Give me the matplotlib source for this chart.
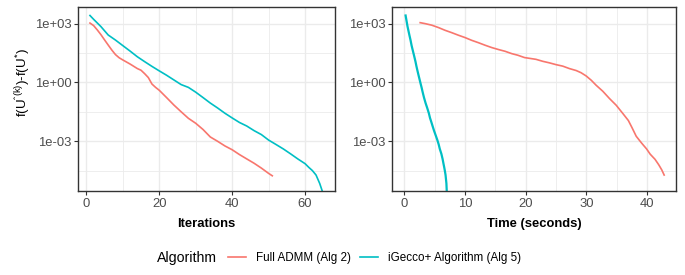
import matplotlib
matplotlib.use("Agg")
import matplotlib.pyplot as plt
from matplotlib.lines import Line2D

plt.rcParams['font.family'] = ['Liberation Sans', 'DejaVu Sans']
plt.rcParams['mathtext.fontset'] = 'custom'
plt.rcParams['mathtext.rm'] = 'Liberation Sans'
plt.rcParams['mathtext.it'] = 'Liberation Sans'
plt.rcParams['mathtext.bf'] = 'Liberation Sans:bold'

# ---------------- data ----------------
series_names = ["Full ADMM (Alg 2)", "iGecco+ Algorithm (Alg 5)"]
series_colors = ["#F8766D", "#00BFC4"]

# Left panel: objective gap vs iterations (Full ADMM)
admm_iter = [1, 2, 3, 4, 5, 6, 7, 8, 9, 10, 12, 14, 15, 16, 17, 18, 19, 20, 22,
             24, 26, 28, 30, 32, 34, 36, 38, 40, 42, 44, 46, 48, 50, 51]
admm_gap_iter = [1070, 794, 479, 275, 148, 81, 44.7, 26.3, 18.2, 14.1, 8.7, 5.1,
                 4.2, 2.8, 1.78, 0.83, 0.56, 0.40, 0.17, 0.071, 0.032, 0.0148,
                 0.0083, 0.0040, 0.00166, 1.0e-3, 5.8e-4, 3.7e-4, 2.1e-4,
                 1.26e-4, 7.6e-5, 4.3e-5, 2.3e-5, 1.74e-5]

# iGecco+: objective gap per iteration, with elapsed time (seconds)
igecco_iter = [1, 2, 4, 6, 8, 10, 12, 14, 16, 18, 20, 22, 24, 26, 28, 30, 32, 34,
               36, 38, 40, 42, 44, 46, 48, 50, 52, 54, 56, 58, 60, 61, 62, 63,
               64, 65]
igecco_gap = [2.6e3, 1.66e3, 708, 263, 145, 75.9, 39.8, 20.4, 11.5, 6.6, 3.9,
              2.34, 1.35, 0.78, 0.56, 0.32, 0.17, 0.089, 0.050, 0.027, 0.0155,
              0.0091, 0.0060, 0.0035, 0.0022, 1.15e-3, 6.9e-4, 4.1e-4, 2.3e-4,
              1.26e-4, 7.2e-5, 4.7e-5, 3.2e-5, 1.9e-5, 7.1e-6, 2.0e-6]
igecco_time = [0.22, 0.33, 0.54, 0.84, 1.03, 1.21, 1.43, 1.66, 1.85, 2.01, 2.18,
               2.35, 2.54, 2.73, 2.85, 3.03, 3.25, 3.51, 3.78, 4.05, 4.24, 4.48,
               4.66, 4.90, 5.13, 5.45, 5.67, 5.85, 6.11, 6.31, 6.46, 6.58, 6.68,
               6.80, 6.94, 7.02]

# Right panel: Full ADMM objective gap vs time (seconds)
admm_time = [2.62, 3.44, 4.54, 5.63, 6.72, 7.81, 8.91, 10.0, 11.1, 12.2, 13.3,
             14.4, 15.5, 16.6, 17.7, 18.7, 19.8, 21.7, 22.8, 23.9, 25.0, 26.1,
             27.2, 28.3, 29.1, 29.96, 30.8, 31.6, 32.7, 33.8, 34.9, 36.0, 36.9,
             37.5, 38.2, 39.1, 39.9, 40.5, 41.3, 41.9, 42.4, 42.8]
admm_gap_time = [1.12e3, 1.0e3, 832, 631, 457, 347, 257, 195, 141, 107, 79.4,
                 60.3, 47.9, 38.9, 29.5, 24.5, 18.6, 15.1, 12.0, 10.0, 8.1, 6.8,
                 5.1, 4.07, 3.16, 2.14, 1.29, 0.72, 0.355, 0.151, 0.069, 0.026,
                 0.0115, 5.0e-3, 1.8e-3, 8.0e-4, 4.1e-4, 2.2e-4, 1.2e-4, 6.4e-5,
                 3.5e-5, 1.9e-5]

x_titles = ["Iterations", "Time (seconds)"]
y_title = r"f(U$^{\mathrm{ˆ(k)}}$)-f(U$^{*}$)"
y_ticks = [1e3, 1e0, 1e-3]
y_ticklabels = ["1e+03", "1e+00", "1e-03"]
y_minor = [10**1.5, 10**-1.5, 10**-4.5]

# ---------------- figure ----------------
W, H = 685, 275
fig = plt.figure(figsize=(W/100, H/100), dpi=100)

def px_axes(x0, x1, y0, y1):
    return fig.add_axes([x0/W, 1 - y1/H, (x1 - x0)/W, (y1 - y0)/H])

axL = px_axes(78.3, 335.0, 7.3, 190.7)
axR = px_axes(392.3, 676.0, 7.3, 190.7)

grey20 = "#333333"
grid_col = "#EBEBEB"
lw = 1.2

def style(ax, xlim, xmaj, xmin, xtitle):
    ax.set_yscale('log')
    ax.set_ylim(10**-5.52, 10**3.833)
    ax.set_xlim(*xlim)
    ax.set_xticks(xmaj)
    ax.set_xticks(xmin, minor=True)
    ax.set_yticks(y_ticks)
    ax.set_yticklabels(y_ticklabels)
    ax.set_yticks(y_minor, minor=True)
    ax.yaxis.set_minor_formatter(matplotlib.ticker.NullFormatter())
    ax.grid(True, which='major', color=grid_col, lw=1.0)
    ax.grid(True, which='minor', color=grid_col, lw=0.6)
    ax.set_axisbelow(True)
    for s in ax.spines.values():
        s.set_color(grey20)
        s.set_linewidth(1.0)
    ax.tick_params(which='major', length=2.75, width=0.8, color=grey20,
                   labelcolor="#4D4D4D", labelsize=9.4, pad=2.2)
    ax.tick_params(which='minor', length=0)
    ax.set_xlabel(xtitle, fontsize=9.4, fontweight='bold', labelpad=6)

style(axL, (-2.2, 68.2), [0, 20, 40, 60], [10, 30, 50], x_titles[0])
style(axR, (-1.97, 44.75), [0, 10, 20, 30, 40], [5, 15, 25, 35], x_titles[1])

axL.plot(admm_iter, admm_gap_iter, color=series_colors[0], lw=lw)
axL.plot(igecco_iter, igecco_gap, color=series_colors[1], lw=lw)
axR.plot(admm_time, admm_gap_time, color=series_colors[0], lw=lw)
axR.plot(igecco_time, igecco_gap, color=series_colors[1], lw=lw + 0.4)

fig.text(23/W, 1 - 83/H, y_title, rotation=90, ha='center', va='center', fontsize=9.6)

# legend
fig.text(157/W, 1 - 258/H, "Algorithm", ha='left', va='center', fontsize=10.2)
handles = [Line2D([], [], color=c, lw=lw) for c in series_colors]
fig.legend(handles, series_names, loc='center left',
           bbox_to_anchor=(227.7/W, 1 - 258/H), ncol=2, frameon=False,
           fontsize=8.35, handlelength=1.55, handletextpad=0.86,
           columnspacing=0.86, borderpad=0, borderaxespad=0)

fig.savefig("out.png", dpi=100)
